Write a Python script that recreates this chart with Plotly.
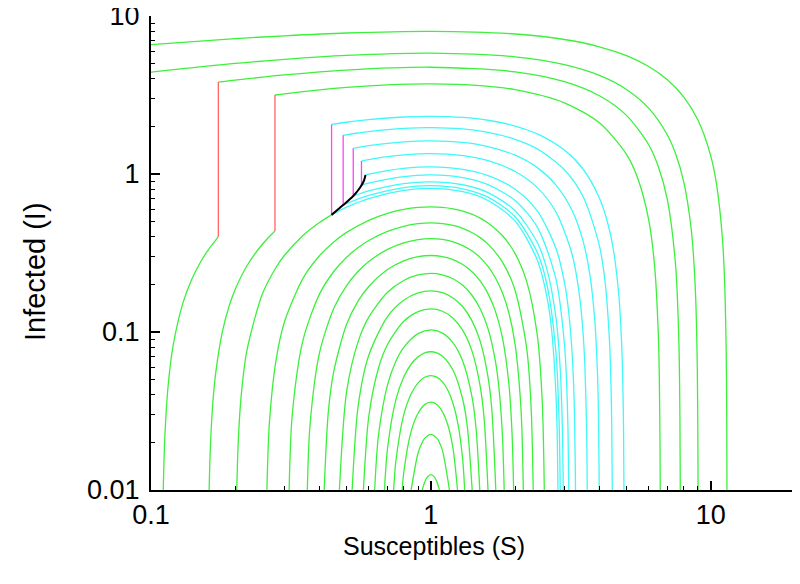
import plotly.graph_objects as go

# closed green orbits (S, I), innermost first
dome_s = [
    [0.931, 0.95, 0.97, 1.0, 1.03, 1.05, 1.0725],
    [0.85, 0.9, 0.931, 0.95, 1.0, 1.05, 1.0725, 1.1, 1.1652],
    [0.79, 0.8, 0.85, 0.9, 0.95, 1.0, 1.05, 1.1, 1.15, 1.2, 1.2453],
    [0.736, 0.75, 0.8, 0.85, 0.9, 0.95, 1.0, 1.05, 1.1, 1.15, 1.2, 1.25, 1.3, 1.3207],
    [0.6827, 0.7, 0.75, 0.8, 0.85, 0.9, 0.95, 1.0, 1.05, 1.1, 1.2, 1.3, 1.35, 1.4047],
    [0.6297, 0.65, 0.7, 0.75, 0.8, 0.9, 1.0, 1.1, 1.2, 1.3, 1.4, 1.45, 1.4951],
    [0.5741, 0.6, 0.65, 0.7, 0.8, 0.9, 1.0, 1.1, 1.2, 1.3, 1.4, 1.5, 1.55, 1.6],
    [0.5233, 0.55, 0.6, 0.7, 0.8, 0.9, 1.0, 1.1, 1.2, 1.3, 1.4, 1.5, 1.6, 1.65, 1.7061],
    [0.4712, 0.5, 0.55, 0.6, 0.7, 0.8, 0.9, 1.0, 1.1, 1.2, 1.3, 1.4, 1.5, 1.6, 1.7, 1.75, 1.8, 1.8278],
    [0.4157, 0.43, 0.45, 0.5, 0.55, 0.6, 0.7, 0.8, 0.9, 1.0, 1.1, 1.2, 1.3, 1.4, 1.5, 1.6, 1.7, 1.8,
     1.9, 1.95, 1.9757],
    [0.3619, 0.37, 0.4, 0.45, 0.5, 0.55, 0.6, 0.7, 0.8, 0.9, 1.0, 1.1, 1.2, 1.3, 1.4, 1.5, 1.6, 1.7,
     1.8, 1.9, 2.0, 2.1, 2.1397],
    [0.3115, 0.32, 0.35, 0.4, 0.45, 0.5, 0.55, 0.6, 0.7, 0.8, 0.9, 1.0, 1.1, 1.2, 1.3, 1.4, 1.5, 1.6,
     1.8, 2.0, 2.2, 2.28, 2.3212],
    [0.2595, 0.265, 0.28, 0.3, 0.35, 0.4, 0.45, 0.5, 0.6, 0.7, 0.8, 0.9, 1.0, 1.1, 1.2, 1.3, 1.4, 1.5,
     1.6, 1.8, 2.0, 2.2, 2.4, 2.5, 2.5425],
]
dome_i = [
    [0.01, 0.0112, 0.01204, 0.0125, 0.01206, 0.0113, 0.01],
    [0.01, 0.01714, 0.02, 0.02121, 0.0225, 0.02129, 0.02, 0.01781, 0.01],
    [0.01, 0.0129, 0.0235, 0.0306, 0.0347, 0.036, 0.0348, 0.0313, 0.0258, 0.0183, 0.01],
    [0.01, 0.0153, 0.0299, 0.0405, 0.0476, 0.0517, 0.053, 0.0518, 0.0483, 0.0428, 0.0353, 0.0261,
     0.0154, 0.01],
    [0.01, 0.0183, 0.0373, 0.0519, 0.0625, 0.0696, 0.0737, 0.075, 0.0738, 0.0703, 0.0573, 0.0374,
     0.0251, 0.01],
    [0.01, 0.0222, 0.0463, 0.0653, 0.0799, 0.0976, 0.103, 0.0983, 0.0853, 0.0654, 0.0395, 0.0246, 0.01],
    [0.01, 0.0292, 0.0592, 0.0833, 0.1169, 0.1346, 0.14, 0.1353, 0.1223, 0.1024, 0.0765, 0.0455,
     0.0283, 0.01],
    [0.01, 0.0342, 0.0712, 0.1253, 0.1589, 0.1766, 0.182, 0.1773, 0.1643, 0.1444, 0.1185, 0.0875,
     0.052, 0.0328, 0.01],
    [0.01, 0.0419, 0.0872, 0.1242, 0.1783, 0.2119, 0.2296, 0.235, 0.2303, 0.2173, 0.1974, 0.1715,
     0.1405, 0.105, 0.0656, 0.0446, 0.0228, 0.01],
    [0.01, 0.031, 0.0565, 0.1119, 0.1572, 0.1942, 0.2483, 0.2819, 0.2996, 0.305, 0.3003, 0.2873,
     0.2674, 0.2415, 0.2105, 0.175, 0.1356, 0.0928, 0.0469, 0.0228, 0.01],
    [0.01, 0.0258, 0.0737, 0.1415, 0.1969, 0.2422, 0.2792, 0.3333, 0.3669, 0.3846, 0.39, 0.3853,
     0.3723, 0.3524, 0.3265, 0.2955, 0.26, 0.2206, 0.1778, 0.1319, 0.0832, 0.0319, 0.01],
    [0.01, 0.0306, 0.0902, 0.1737, 0.2415, 0.2969, 0.3422, 0.3792, 0.4333, 0.4669, 0.4846, 0.49,
     0.4853, 0.4723, 0.4524, 0.4265, 0.3955, 0.36, 0.2778, 0.1832, 0.0785, 0.0342, 0.01],
    [0.01, 0.027, 0.067, 0.116, 0.2202, 0.3037, 0.3715, 0.4269, 0.5092, 0.5633, 0.5969, 0.6146, 0.62,
     0.6153, 0.6023, 0.5824, 0.5565, 0.5255, 0.49, 0.4078, 0.3132, 0.2085, 0.0955, 0.0363, 0.01],
]

# green arcs that climb up to a jump (red / magenta)
rise_s = [
    [0.1106, 0.112, 0.115, 0.12, 0.13, 0.14, 0.15, 0.16, 0.174],
    [0.1613, 0.163, 0.166, 0.17, 0.18, 0.19, 0.2, 0.22, 0.25, 0.2773],
    [0.2025, 0.205, 0.21, 0.22, 0.25, 0.28, 0.3, 0.35, 0.4, 0.4418],
]
rise_i = [
    [0.01, 0.0212, 0.0447, 0.0822, 0.1523, 0.2164, 0.2754, 0.3299, 0.40],
    [0.01, 0.0187, 0.0339, 0.0537, 0.1009, 0.145, 0.1863, 0.2616, 0.3594, 0.4357],
    [0.01, 0.0203, 0.0394, 0.0759, 0.1737, 0.257, 0.306, 0.4102, 0.4937, 0.5513],
]

# big green arcs coming down on the right
top_s = [
    [0.1, 0.2, 0.3, 0.5, 1, 2, 3, 4, 5, 6, 7, 8, 9, 10, 10.5, 11, 11.2, 11.35, 11.4, 11.42, 11.426],
    [0.1, 0.2, 0.3, 0.5, 1, 2, 3, 4, 5, 6, 7, 7.5, 8, 8.5, 8.8, 8.95, 9.0, 9.008],
    [0.174, 0.2, 0.3, 0.5, 1, 2, 3, 4, 5, 6, 6.5, 7, 7.5, 7.7, 7.76, 7.783],
    [0.2773, 0.3, 0.4, 0.5, 0.7, 1, 1.5, 2, 3, 4, 5, 5.5, 6, 6.3, 6.5, 6.55, 6.59, 6.599],
]
top_i = [
    [6.597, 7.19, 7.496, 7.807, 8.0, 7.693, 7.099, 6.386, 5.609, 4.792, 3.946, 3.079, 2.197, 1.303,
     0.851, 0.398, 0.216, 0.0792, 0.0336, 0.0154, 0.01],
    [4.417, 5.011, 5.316, 5.627, 5.82, 5.513, 4.919, 4.206, 3.429, 2.612, 1.766, 1.335, 0.899, 0.46,
     0.1948, 0.0617, 0.0172, 0.01],
    [3.817, 3.931, 4.236, 4.547, 4.74, 4.433, 3.839, 3.126, 2.349, 1.532, 1.112, 0.686, 0.255, 0.0812,
     0.029, 0.01],
    [3.162, 3.218, 3.406, 3.529, 3.665, 3.722, 3.627, 3.415, 2.821, 2.108, 1.331, 0.927, 0.514, 0.2626,
     0.0938, 0.0515, 0.0176, 0.01],
]

# cyan arcs after the magenta jumps, and from the top of the black curve
jump_s = [
    [0.4418, 0.5, 0.6, 0.8, 1, 1.3, 1.6, 2, 2.4, 3, 3.5, 4, 4.3, 4.5, 4.7, 4.8, 4.85, 4.88, 4.897],
    [0.486, 0.55, 0.6, 0.8, 1, 1.3, 1.6, 2, 2.4, 3, 3.5, 4, 4.2, 4.35, 4.4, 4.43, 4.448],
    [0.528, 0.6, 0.8, 1, 1.3, 1.6, 2, 2.4, 2.8, 3.2, 3.5, 3.7, 3.85, 3.93, 3.97, 3.997],
    [0.565, 0.6, 0.7, 0.8, 1, 1.3, 1.6, 2, 2.4, 2.8, 3.2, 3.4, 3.5, 3.55, 3.6, 3.62],
    [0.584, 0.6, 0.7, 0.8, 1, 1.3, 1.6, 2, 2.4, 2.8, 3, 3.1, 3.2, 3.25, 3.288],
]
jump_i = [
    [2.06, 2.1256, 2.2079, 2.2956, 2.3187, 2.2811, 2.1887, 2.0119, 1.7942, 1.4173, 1.0715, 0.705,
     0.4773, 0.3228, 0.1663, 0.0873, 0.0477, 0.0239, 0.01],
    [1.758, 1.8177, 1.8547, 1.9424, 1.9655, 1.9279, 1.8355, 1.6587, 1.441, 1.0641, 0.7183, 0.3518,
     0.2006, 0.0857, 0.0471, 0.0239, 0.01],
    [1.455, 1.5109, 1.5986, 1.6217, 1.5841, 1.4917, 1.3149, 1.0972, 0.8513, 0.5849, 0.3745, 0.23,
     0.1198, 0.0603, 0.0305, 0.01],
    [1.208, 1.2332, 1.2873, 1.3209, 1.344, 1.3064, 1.214, 1.0372, 0.8195, 0.5736, 0.3072, 0.1678,
     0.0968, 0.061, 0.0249, 0.01],
    [0.986, 0.9972, 1.0513, 1.0849, 1.108, 1.0704, 0.978, 0.8012, 0.5835, 0.3376, 0.2066, 0.1394,
     0.0712, 0.0367, 0.01],
]

# cyan arcs leaving the black curve without a jump
stay_s = [
    [0.4418, 0.5, 0.6, 0.8, 1, 1.3, 1.6, 2, 2.4, 2.6, 2.7, 2.8, 2.83, 2.846],
    [0.486, 0.5, 0.6, 0.8, 1, 1.3, 1.6, 2, 2.4, 2.6, 2.8, 2.87, 2.899],
    [0.528, 0.6, 0.8, 1, 1.3, 1.6, 2, 2.4, 2.6, 2.8, 2.9, 2.95, 2.972],
    [0.565, 0.6, 0.8, 1, 1.3, 1.6, 2, 2.4, 2.8, 3, 3.05, 3.09, 3.111],
]
stay_i = [
    [0.5513, 0.6169, 0.6992, 0.7869, 0.81, 0.7724, 0.68, 0.5032, 0.2855, 0.1655, 0.1033, 0.0396,
     0.0203, 0.01],
    [0.636, 0.6504, 0.7327, 0.8204, 0.8435, 0.8059, 0.7135, 0.5367, 0.319, 0.199, 0.0731, 0.0278, 0.01],
    [0.726, 0.7819, 0.8696, 0.8927, 0.8551, 0.7627, 0.5859, 0.3682, 0.2482, 0.1223, 0.0574, 0.0245,
     0.01],
    [0.85, 0.8751, 0.9628, 0.9859, 0.9483, 0.8559, 0.6791, 0.4614, 0.2155, 0.0845, 0.051, 0.0241, 0.01],
]

# vertical jumps: S, I before, I after
red_s = [0.174, 0.2773]
red_from = [0.40, 0.4357]
red_to = [3.817, 3.162]
mag_s = [0.4418, 0.486, 0.528, 0.565]
mag_from = [0.5513, 0.636, 0.726, 0.85]
mag_to = [2.06, 1.758, 1.455, 1.208]

# threshold curve
black_s = [0.4418, 0.486, 0.528, 0.558, 0.576, 0.584]
black_i = [0.5513, 0.636, 0.726, 0.819, 0.903, 0.986]

GREEN = "#3cf03c"
CYAN = "#40f8f8"
RED = "#ff6464"
MAGENTA = "#ff44ff"

fig = go.Figure()


def add_line(xs, ys, color, width=1.3, smooth=True):
    fig.add_trace(go.Scatter(
        x=xs, y=ys, mode="lines",
        line=dict(color=color, width=width,
                  shape="spline" if smooth else "linear",
                  smoothing=0.8 if smooth else None),
        hoverinfo="skip", showlegend=False
    ))


for xs, ys in zip(dome_s, dome_i):
    add_line(xs, ys, GREEN)
for xs, ys in zip(rise_s, rise_i):
    add_line(xs, ys, GREEN)
for xs, ys in zip(top_s, top_i):
    add_line(xs, ys, GREEN)
for xs, ys in zip(stay_s, stay_i):
    add_line(xs, ys, CYAN)
for xs, ys in zip(jump_s, jump_i):
    add_line(xs, ys, CYAN)
for s, a, b in zip(red_s, red_from, red_to):
    add_line([s, s], [a, b], RED, smooth=False)
for s, a, b in zip(mag_s, mag_from, mag_to):
    add_line([s, s], [a, b], MAGENTA, smooth=False)
add_line(black_s, black_i, "black", width=2, smooth=True)

font = "Liberation Sans, Arial, sans-serif"
axis = dict(
    type="log", showgrid=False, zeroline=False, showline=True, automargin=False,
    linecolor="black", linewidth=2, ticks="inside", ticklen=9, tickwidth=1.5,
    tickcolor="black", mirror=False, ticklabeloverflow="allow",
    tickfont=dict(family=font, size=27, color="black"),
    minor=dict(ticks="inside", ticklen=4, tickwidth=1, tickcolor="black", dtick="D1"),
)

# the page body adds 8 px on the left and top, margins allow for it
fig.update_layout(
    width=800, height=584,
    margin=dict(l=143, r=13, t=8, b=102),
    paper_bgcolor="white", plot_bgcolor="white",
    xaxis=dict(axis, range=[-1, 1.30103],
               tickvals=[0.1, 1, 10], ticktext=["0.1", "1", "10"]),
    yaxis=dict(axis, range=[-2, 1], ticklabelstandoff=4,
               tickvals=[0.01, 0.1, 1, 10], ticktext=["0.01", "0.1", "1", "10"]),
    annotations=[
        dict(text="Susceptibles (S)", xref="paper", yref="paper", x=0.4387, y=-0.118,
             xanchor="center", yanchor="middle",
             showarrow=False, font=dict(family=font, size=25, color="black")),
        dict(text="Infected (I)", xref="paper", yref="paper", x=-0.180, y=0.46,
             xanchor="center", yanchor="middle",
             textangle=-90, showarrow=False, font=dict(family=font, size=29, color="black")),
    ],
)

fig.write_html("out.html")
